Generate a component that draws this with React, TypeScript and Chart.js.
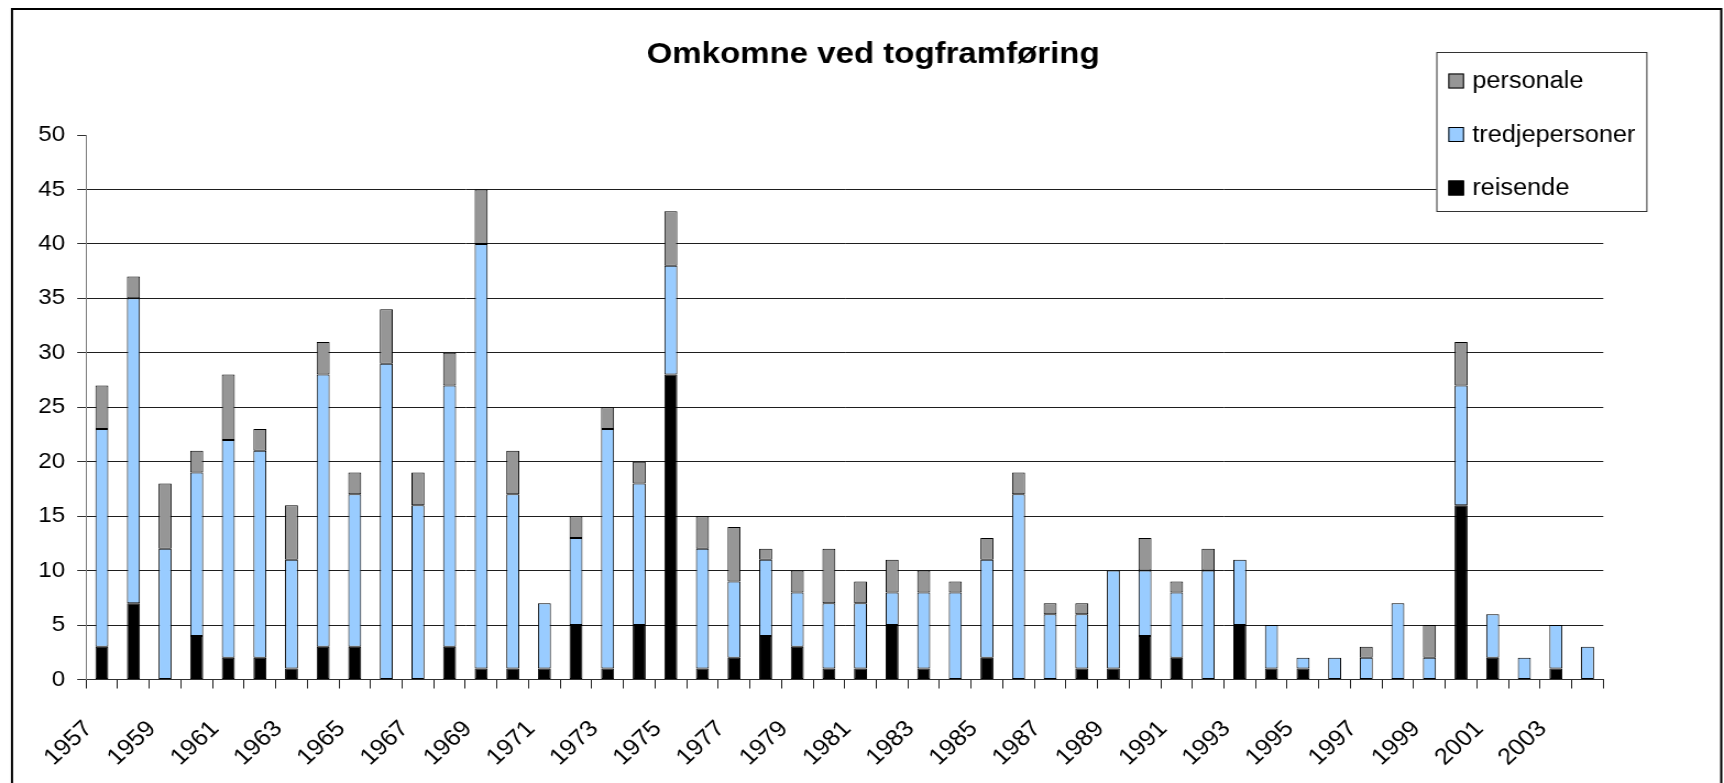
import React, { useEffect, useRef } from 'react';
import { Chart, registerables } from 'chart.js';

Chart.register(...registerables);

// ---------- data ----------
const TITLE = 'Omkomne ved togframføring';

const years = [
  '1957', '1958', '1959', '1960', '1961', '1962', '1963', '1964', '1965', '1966',
  '1967', '1968', '1969', '1970', '1971', '1972', '1973', '1974', '1975', '1976',
  '1977', '1978', '1979', '1980', '1981', '1982', '1983', '1984', '1985', '1986',
  '1987', '1988', '1989', '1990', '1991', '1992', '1993', '1994', '1995', '1996',
  '1997', '1998', '1999', '2000', '2001', '2002', '2003', '2004',
];

const reisende = [
  3, 7, 0, 4, 2, 2, 1, 3, 3, 0,
  0, 3, 1, 1, 1, 5, 1, 5, 28, 1,
  2, 4, 3, 1, 1, 5, 1, 0, 2, 0,
  0, 1, 1, 4, 2, 0, 5, 1, 1, 0,
  0, 0, 0, 16, 2, 0, 1, 0,
];

const tredjepersoner = [
  20, 28, 12, 15, 20, 19, 10, 25, 14, 29,
  16, 24, 39, 16, 6, 8, 22, 13, 10, 11,
  7, 7, 5, 6, 6, 3, 7, 8, 9, 17,
  6, 5, 9, 6, 6, 10, 6, 4, 1, 2,
  2, 7, 2, 11, 4, 2, 4, 3,
];

const personale = [
  4, 2, 6, 2, 6, 2, 5, 3, 2, 5,
  3, 3, 5, 4, 0, 2, 2, 2, 5, 3,
  5, 1, 2, 5, 2, 3, 2, 1, 2, 2,
  1, 1, 0, 3, 1, 2, 0, 0, 0, 0,
  1, 0, 3, 4, 0, 0, 0, 0,
];

const seriesNames = ['reisende', 'tredjepersoner', 'personale'];
const seriesColors = ['#000000', '#99CCFF', '#969696'];

const Y_MIN = 0;
const Y_MAX = 50;
const Y_STEP = 5;

// ---------- layout (internal canvas units; canvas is stretched horizontally) ----------
const CANVAS_W = 1567;
const CANVAS_H = 783;
const CSS_W = 1724;
const FONT = 'Arial, "Liberation Sans", sans-serif';

const decorPlugin = {
  id: 'decor',
  afterDraw(chart: any) {
    const ctx = chart.ctx as CanvasRenderingContext2D;
    ctx.save();
    // outer frame
    ctx.strokeStyle = '#000';
    ctx.lineWidth = 2;
    ctx.strokeRect(10.9, 9, 1553.6, 820);

    // title
    ctx.fillStyle = '#000';
    ctx.font = `bold 30px ${FONT}`;
    ctx.textAlign = 'center';
    ctx.textBaseline = 'alphabetic';
    ctx.fillText(TITLE, 793.6, 63);

    // legend box
    const bx = 1305.5, by = 52, bw = 190.9, bh = 159;
    ctx.fillStyle = '#fff';
    ctx.fillRect(bx, by, bw, bh);
    ctx.strokeStyle = '#333';
    ctx.lineWidth = 1;
    ctx.strokeRect(bx + 0.5, by + 0.5, bw, bh);

    const items = chart.data.datasets.slice().reverse();
    const centers = [81, 134.5, 188];
    ctx.font = `23px ${FONT}`;
    ctx.textAlign = 'left';
    ctx.textBaseline = 'middle';
    items.forEach((ds: any, i: number) => {
      const cy = centers[i];
      ctx.fillStyle = ds.backgroundColor;
      ctx.fillRect(1316.4, cy - 7.5, 14.3, 15);
      ctx.strokeStyle = '#000';
      ctx.lineWidth = 1;
      ctx.strokeRect(1316.4 + 0.5, cy - 7.5 + 0.5, 13.3, 14);
      ctx.fillStyle = '#000';
      ctx.fillText(ds.label, 1338.2, cy + 1);
    });
    ctx.restore();
  },
};

export default function App() {
  const canvasRef = useRef<HTMLCanvasElement | null>(null);

  useEffect(() => {
    document.body.style.margin = '0';
    document.body.style.overflow = 'hidden';
    const canvas = canvasRef.current;
    if (!canvas) return;

    const seriesData = [reisende, tredjepersoner, personale];
    const chart = new Chart(canvas, {
      type: 'bar',
      data: {
        labels: years,
        datasets: seriesNames.map((name, i) => ({
          label: name,
          data: seriesData[i],
          backgroundColor: seriesColors[i],
          borderColor: '#000',
          borderWidth: 1,
          borderSkipped: false,
          barPercentage: 0.41,
          categoryPercentage: 1,
        })),
      },
      options: {
        responsive: false,
        animation: false,
        devicePixelRatio: 1,
        layout: { padding: { left: 0, top: 135, right: 109.7, bottom: 0 } },
        plugins: {
          legend: { display: false },
          title: { display: false },
          tooltip: { enabled: false },
        },
        scales: {
          x: {
            stacked: true,
            offset: true,
            grid: {
              offset: true,
              drawOnChartArea: false,
              drawTicks: true,
              tickLength: 9,
              tickColor: '#222',
            },
            border: { display: true, color: '#303030', width: 1 },
            ticks: {
              autoSkip: false,
              maxRotation: 45,
              minRotation: 45,
              padding: 27,
              labelOffset: -12,
              color: '#000',
              font: { family: FONT, size: 23 },
              callback: (_v: any, idx: number) => (idx % 2 === 0 ? years[idx] : ''),
            },
            afterFit: (scale: any) => {
              scale.height = 103.5;
            },
          },
          y: {
            stacked: true,
            min: Y_MIN,
            max: Y_MAX,
            ticks: {
              stepSize: Y_STEP,
              padding: 11,
              color: '#000',
              font: { family: FONT, size: 22 },
            },
            grid: {
              color: (ctx: any) => (ctx.tick && ctx.tick.value === Y_MAX ? 'rgba(0,0,0,0)' : '#1e1e1e'),
              tickColor: '#303030',
              tickLength: 8,
              lineWidth: 1,
            },
            border: { display: true, color: '#808080', width: 1 },
            afterFit: (scale: any) => {
              scale.width = 78.2;
            },
          },
        },
      },
      plugins: [decorPlugin],
    });

    return () => {
      chart.destroy();
    };
  }, []);

  return (
    <div style={{ position: 'absolute', left: 0, top: 0, width: CSS_W, height: CANVAS_H, background: '#fff' }}>
      <canvas
        ref={canvasRef}
        width={CANVAS_W}
        height={CANVAS_H}
        style={{ width: `${CSS_W}px`, height: `${CANVAS_H}px`, display: 'block' }}
      />
    </div>
  );
}
